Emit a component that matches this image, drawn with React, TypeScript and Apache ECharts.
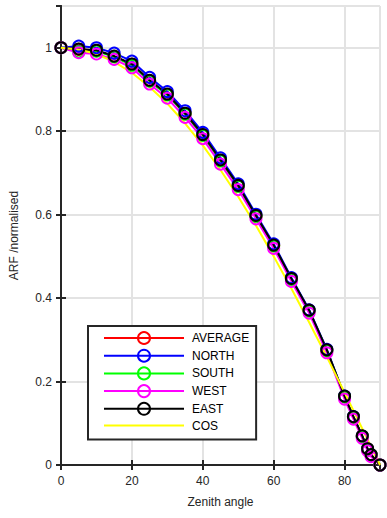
import React, { useEffect, useRef } from "react";
import * as echarts from "echarts";

const ANGLES = [0, 5, 10, 15, 20, 25, 30, 35, 40, 45, 50, 55, 60, 65, 70, 75, 80, 82.5, 85, 86.5, 87.5, 90];
const AVERAGE = [1.0, 0.996, 0.993, 0.979, 0.960, 0.921, 0.888, 0.842, 0.791, 0.730, 0.669, 0.597, 0.526, 0.446, 0.370, 0.275, 0.164, 0.115, 0.069, 0.038, 0.024, 0.0];
const NORTH = [1.0, 1.004, 1.0, 0.987, 0.968, 0.929, 0.895, 0.849, 0.797, 0.736, 0.674, 0.601, 0.530, 0.449, 0.372, 0.277, 0.165, 0.116, 0.069, 0.038, 0.024, 0.0];
const SOUTH = [1.0, 0.990, 0.992, 0.978, 0.958, 0.920, 0.887, 0.841, 0.790, 0.729, 0.668, 0.596, 0.525, 0.445, 0.369, 0.274, 0.163, 0.114, 0.068, 0.037, 0.023, 0.0];
const WEST = [1.0, 0.988, 0.985, 0.972, 0.952, 0.913, 0.879, 0.833, 0.782, 0.721, 0.660, 0.590, 0.519, 0.440, 0.364, 0.269, 0.158, 0.110, 0.064, 0.034, 0.020, 0.0];
const EAST = [1.0, 0.997, 0.994, 0.980, 0.961, 0.922, 0.889, 0.843, 0.792, 0.731, 0.670, 0.598, 0.527, 0.447, 0.371, 0.276, 0.165, 0.116, 0.070, 0.039, 0.025, 0.0];
const COS_ANGLES = [0, 5, 10, 15, 20, 25, 30, 35, 40, 45, 50, 55, 60, 65, 70, 75, 80, 85, 90];
const COS = [1.0, 0.996, 0.985, 0.966, 0.940, 0.906, 0.866, 0.819, 0.766, 0.707, 0.643, 0.574, 0.5, 0.423, 0.342, 0.259, 0.174, 0.087, 0.0];

const SERIES_NAMES = ["AVERAGE", "NORTH", "SOUTH", "WEST", "EAST", "COS"];
const SERIES_COLORS = ["#ff0000", "#0000ff", "#00ff00", "#ff00ff", "#000000", "#ffff00"];

const FONT = "Liberation Sans, Arial, Helvetica, sans-serif";

export default function App() {
  const ref = useRef<HTMLDivElement>(null);
  useEffect(() => {
    if (!ref.current) return;
    const chart = echarts.init(ref.current, undefined, { renderer: "svg" });
    const arfData = [AVERAGE, NORTH, SOUTH, WEST, EAST];
    const series: any[] = arfData.map((vals, i) => ({
      name: SERIES_NAMES[i],
      type: "line",
      data: ANGLES.map((a, j) => [a, vals[j]]),
      symbol: "circle",
      symbolSize: 11,
      showSymbol: true,
      clip: false,
      lineStyle: { color: SERIES_COLORS[i], width: 2 },
      itemStyle: { color: "rgba(0,0,0,0)", borderColor: SERIES_COLORS[i], borderWidth: 2 },
      emphasis: { disabled: true },
    }));
    series.push({
      name: SERIES_NAMES[5],
      type: "line",
      data: COS_ANGLES.map((a, j) => [a, COS[j]]),
      symbol: "none",
      clip: false,
      lineStyle: { color: SERIES_COLORS[5], width: 2 },
      itemStyle: { color: "rgba(0,0,0,0)", borderColor: "rgba(0,0,0,0)", borderWidth: 0 },
      emphasis: { disabled: true },
    });

    const axisLine = { show: true, lineStyle: { color: "#262626", width: 2 } };
    const tick = { show: true, inside: true, length: 5, lineStyle: { color: "#262626", width: 2 } };

    chart.setOption({
      animation: false,
      backgroundColor: "#ffffff",
      grid: { left: 61, top: 6, right: 7, bottom: 53, containLabel: false },
      legend: {
        orient: "vertical",
        left: 88,
        top: 326,
        data: SERIES_NAMES,
        itemWidth: 80,
        itemHeight: 15,
        itemGap: 3.7,
        padding: [5, 7, 8, 15],
        backgroundColor: "#ffffff",
        borderColor: "#262626",
        borderWidth: 2,
        borderRadius: 0,
        textStyle: { fontFamily: FONT, fontSize: 12, color: "#000000", padding: [0, 0, 0, 3] },
        selectedMode: false,
      },
      xAxis: [
        {
          type: "value",
          min: 0,
          max: 90,
          interval: 20,
          name: "Zenith angle",
          nameLocation: "middle",
          nameGap: 31,
          nameTextStyle: { fontFamily: FONT, fontSize: 12, color: "#262626" },
          axisLine,
          axisTick: tick,
          axisLabel: { fontFamily: FONT, fontSize: 12, color: "#262626", margin: 10, showMaxLabel: false },
          splitLine: { show: true, lineStyle: { color: "#e3e3e3", width: 2 } },
        },
        {
          type: "value",
          position: "top",
          min: 0,
          max: 90,
          interval: 20,
          axisLine,
          axisTick: tick,
          axisLabel: { show: false },
          splitLine: { show: false },
        },
      ],
      yAxis: [
        {
          type: "value",
          min: 0,
          max: 1.1,
          interval: 0.2,
          name: "ARF /normalised",
          nameLocation: "middle",
          nameGap: 41,
          nameTextStyle: { fontFamily: FONT, fontSize: 12, color: "#262626" },
          axisLine,
          axisTick: tick,
          axisLabel: {
            fontFamily: FONT,
            fontSize: 12,
            color: "#262626",
            margin: 9,
            showMaxLabel: false,
          },
          splitLine: { show: true, lineStyle: { color: "#e3e3e3", width: 2 } },
        },
        {
          type: "value",
          position: "right",
          min: 0,
          max: 1.1,
          interval: 0.2,
          axisLine,
          axisTick: tick,
          axisLabel: { show: false },
          splitLine: { show: false },
        },
      ],
      series,
    });
    return () => chart.dispose();
  }, []);
  return <div ref={ref} style={{ width: 387, height: 518, position: "absolute", left: 0, top: 0 }} />;
}
